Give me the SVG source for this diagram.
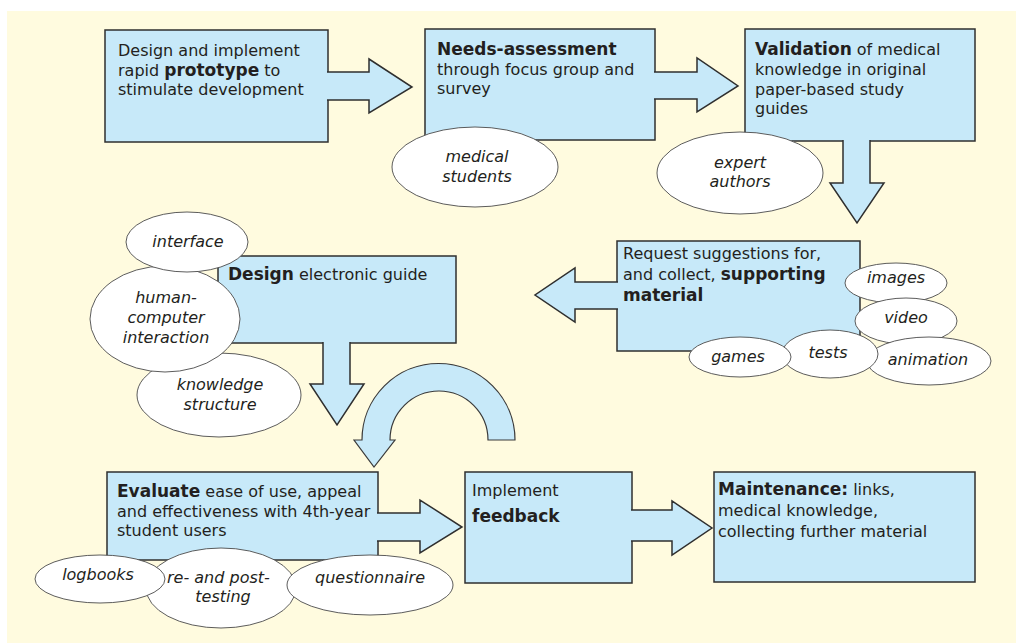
<svg xmlns="http://www.w3.org/2000/svg" width="1016" height="643" viewBox="0 0 1016 643">
  <style>
    .box { fill: #C7E9F9; stroke: #2f2f2f; stroke-width: 1.5; }
    .flow { fill: #C7E9F9; stroke: #2f2f2f; stroke-width: 1.5; stroke-linejoin: miter; stroke-linecap: butt; }
    .loop { fill: #C7E9F9; stroke: #3a3a3a; stroke-width: 1.2; }
    .oval { fill: #ffffff; stroke: #4a4a4a; stroke-width: 0.9; }
    .t { font-family: "DejaVu Sans", "Liberation Sans", sans-serif; font-size: 16px; fill: #231F20; }
    .b { font-weight: bold; font-size: 17px; }
    .o { font-style: italic; text-anchor: middle; }
  </style>

  <!-- page -->
  <rect x="0" y="0" width="1016" height="643" fill="#ffffff"/>
  <rect x="7" y="11" width="1009" height="632" fill="#FFFBDF"/>

  <!-- process steps -->
  <g id="step-prototype">
    <rect class="box" x="105" y="30" width="223" height="112"/>
    <text class="t" x="118" y="56">Design and implement</text>
    <text class="t" x="118" y="75.5">rapid <tspan class="b">prototype</tspan> to</text>
    <text class="t" x="118" y="95">stimulate development</text>
  </g>

  <g id="step-needs">
    <rect class="box" x="425" y="29" width="230" height="111"/>
    <text class="t b" x="437" y="55">Needs-assessment</text>
    <text class="t" x="437" y="75">through focus group and</text>
    <text class="t" x="437" y="94">survey</text>
  </g>

  <g id="step-validation">
    <rect class="box" x="745" y="29" width="230" height="112"/>
    <text class="t" x="755" y="55"><tspan class="b">Validation</tspan> of medical</text>
    <text class="t" x="755" y="75">knowledge in original</text>
    <text class="t" x="755" y="95">paper-based study</text>
    <text class="t" x="755" y="114">guides</text>
  </g>

  <g id="step-material">
    <rect class="box" x="617" y="241" width="243" height="110"/>
    <text class="t" x="623" y="259">Request suggestions for,</text>
    <text class="t" x="623" y="280">and collect, <tspan class="b">supporting</tspan></text>
    <text class="t b" x="623" y="301">material</text>
  </g>

  <g id="step-design">
    <rect class="box" x="218" y="256" width="238" height="87"/>
    <text class="t" x="228" y="280"><tspan class="b">Design</tspan> electronic guide</text>
  </g>

  <g id="step-evaluate">
    <rect class="box" x="107" y="472" width="271" height="88"/>
    <text class="t" x="117" y="497"><tspan class="b">Evaluate</tspan> ease of use, appeal</text>
    <text class="t" x="117" y="517">and effectiveness with 4th-year</text>
    <text class="t" x="117" y="536">student users</text>
  </g>

  <g id="step-feedback">
    <rect class="box" x="465" y="472" width="167" height="111"/>
    <text class="t" x="472" y="496">Implement</text>
    <text class="t b" x="472" y="522">feedback</text>
  </g>

  <g id="step-maintenance">
    <rect class="box" x="714" y="472" width="261" height="110"/>
    <text class="t" x="718" y="495"><tspan class="b">Maintenance:</tspan> links,</text>
    <text class="t" x="718" y="516">medical knowledge,</text>
    <text class="t" x="718" y="537">collecting further material</text>
  </g>

  <!-- block arrows between steps (open at the box side so they merge with it) -->
  <g id="connectors">
    <path class="flow" d="M327,72 H369 V59 L412,87 L369,113 V100 H327"/>
    <path class="flow" d="M654,72 H697 V58 L738,86 L697,112 V99 H654"/>
    <path class="flow" d="M870,140 V183 H884 L857,223 L830,183 H843 V140"/>
    <path class="flow" d="M618,282 H575 V268 L535,295 L575,322 V309 H618"/>
    <path class="flow" d="M350,342 V384 H364 L337,425 L310,384 H323 V342"/>
    <path class="flow" d="M377,513 H420 V500 L462,527 L420,553 V541 H377"/>
    <path class="flow" d="M631,510 H672 V501 L712,528 L672,555 V541 H631"/>
    <!-- feedback loop back into evaluation -->
    <path class="loop" d="M515,440 A76.5,76.5 0 0 0 362,440 H354 L374,467 L395,440 H390 A49,49 0 0 1 488,440 Z"/>
  </g>

  <!-- resources attached to the steps -->
  <g id="res-medical-students">
    <ellipse class="oval" cx="475" cy="167" rx="83" ry="40"/>
    <text class="t o" x="477" y="162">medical</text>
    <text class="t o" x="477" y="182">students</text>
  </g>

  <g id="res-expert-authors">
    <ellipse class="oval" cx="740" cy="173" rx="83" ry="41"/>
    <text class="t o" x="740" y="168">expert</text>
    <text class="t o" x="740" y="187">authors</text>
  </g>

  <g id="res-images">
    <ellipse class="oval" cx="896" cy="283" rx="51" ry="20"/>
    <text class="t o" x="896" y="283">images</text>
  </g>

  <g id="res-video">
    <ellipse class="oval" cx="906" cy="321" rx="51" ry="23"/>
    <text class="t o" x="906" y="323">video</text>
  </g>

  <g id="res-animation">
    <ellipse class="oval" cx="929" cy="361" rx="62" ry="24"/>
    <text class="t o" x="928" y="365">animation</text>
  </g>

  <g id="res-tests">
    <ellipse class="oval" cx="830" cy="354" rx="48" ry="24"/>
    <text class="t o" x="828" y="358">tests</text>
  </g>

  <g id="res-games">
    <ellipse class="oval" cx="740" cy="357" rx="51" ry="20"/>
    <text class="t o" x="738" y="362">games</text>
  </g>

  <g id="res-knowledge">
    <ellipse class="oval" cx="219" cy="395" rx="82" ry="42"/>
    <text class="t o" x="220" y="390">knowledge</text>
    <text class="t o" x="220" y="410">structure</text>
  </g>

  <g id="res-hci">
    <ellipse class="oval" cx="165" cy="319" rx="75" ry="53"/>
    <text class="t o" x="166" y="303">human-</text>
    <text class="t o" x="166" y="323">computer</text>
    <text class="t o" x="166" y="343">interaction</text>
  </g>

  <g id="res-interface">
    <ellipse class="oval" cx="187" cy="242" rx="61" ry="30"/>
    <text class="t o" x="188" y="247">interface</text>
  </g>

  <g id="res-testing">
    <ellipse class="oval" cx="221" cy="588" rx="75" ry="40"/>
    <text class="t" x="167" y="583" font-style="italic">re- and post-</text>
    <text class="t o" x="223" y="602">testing</text>
  </g>

  <g id="res-questionnaire">
    <ellipse class="oval" cx="370" cy="585" rx="83" ry="30"/>
    <text class="t o" x="370" y="583">questionnaire</text>
  </g>

  <g id="res-logbooks">
    <ellipse class="oval" cx="100" cy="579" rx="65" ry="24"/>
    <text class="t o" x="98" y="580">logbooks</text>
  </g>
</svg>
